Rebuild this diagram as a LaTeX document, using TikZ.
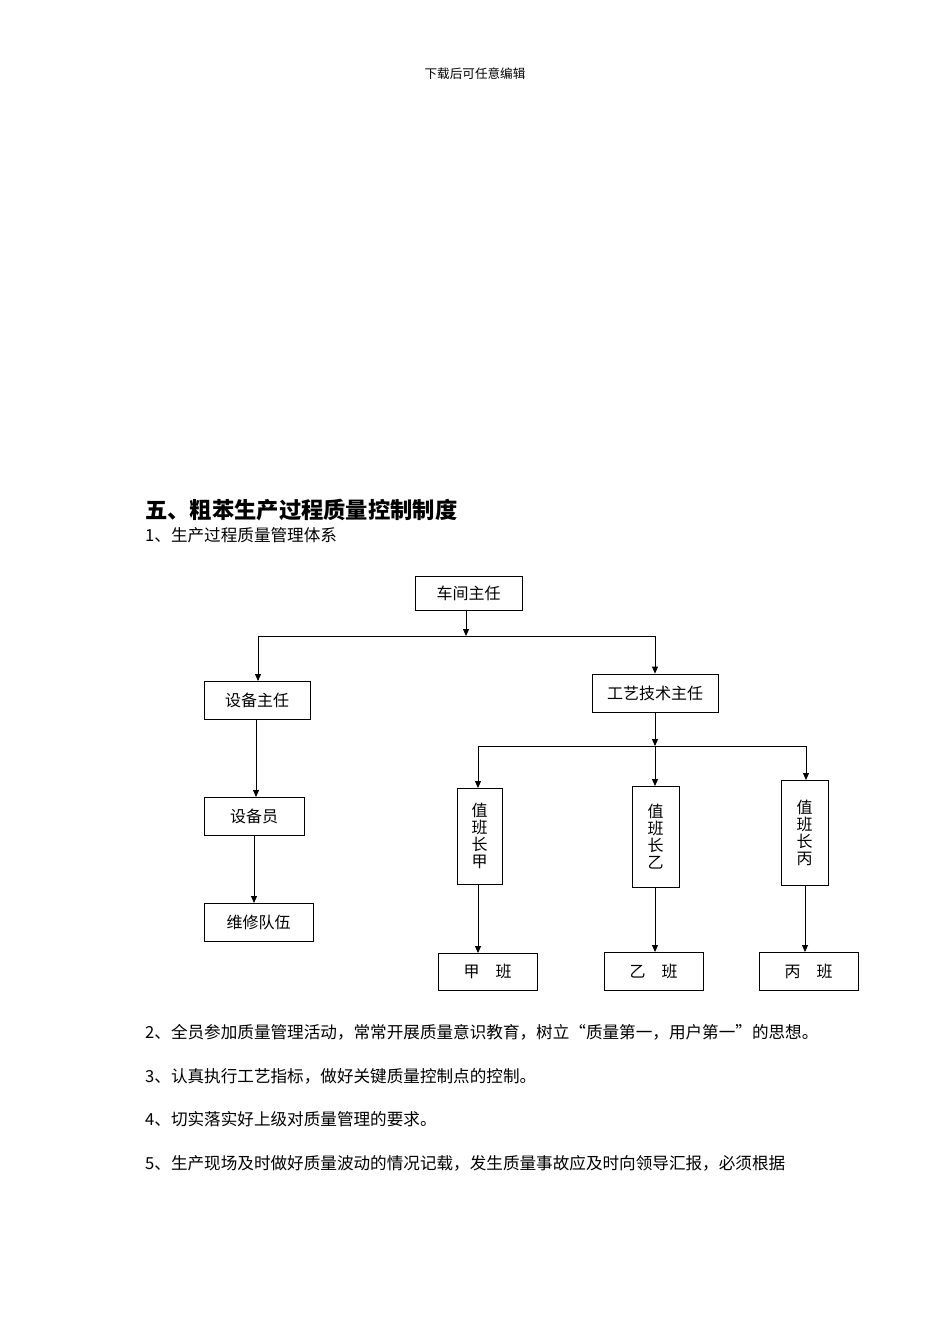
\documentclass[tikz,border=0pt]{standalone}
\usepackage{fontspec}
\newfontfamily\cjk{Noto Sans CJK SC}
\usetikzlibrary{arrows.meta}
\begin{document}
\begin{tikzpicture}[x=1pt,y=-1pt,
 bx/.style={draw,line width=0.8pt,inner sep=0pt,font=\cjk\fontsize{16}{16}\selectfont},
 vb/.style={bx,align=center,font=\cjk\fontsize{16}{17}\selectfont},
 ar/.style={-{Triangle[length=7pt,width=6pt]},line width=0.8pt},
 ln/.style={line width=0.8pt},
 tx/.style={anchor=west,inner sep=0pt,font=\cjk\fontsize{16.6}{17}\selectfont}]
\useasboundingbox (0,0) rectangle (950,1344);
\node[inner sep=0pt,font=\cjk\fontsize{12.6}{13}\selectfont] (hdr) at (475,74) {下载后可任意编辑};
\node[tx,font=\cjk\bfseries\fontsize{22.3}{23}\selectfont] (t0) at (145,510) {五、粗苯生产过程质量控制制度};
\node[tx] (t1) at (145,535) {1、生产过程质量管理体系};
\node[bx,minimum width=107pt,minimum height=34pt] (a) at (468.5,593) {车间主任};
\node[bx,minimum width=106pt,minimum height=38pt] (b) at (257,700) {设备主任};
\node[bx,minimum width=126pt,minimum height=38pt] (c) at (655,693) {工艺技术主任};
\node[bx,minimum width=100pt,minimum height=38pt] (d) at (254,816) {设备员};
\node[bx,minimum width=109pt,minimum height=38pt] (e) at (258.5,922) {维修队伍};
\node[vb,minimum width=45pt,minimum height=96pt] (f) at (479.5,836) {值\\班\\长\\甲};
\node[vb,minimum width=47pt,minimum height=101pt] (g) at (655.5,836.5) {值\\班\\长\\乙};
\node[vb,minimum width=47pt,minimum height=105pt] (h) at (804.5,832.5) {值\\班\\长\\丙};
\node[bx,minimum width=99pt,minimum height=37pt] (i) at (487.5,971.5) {甲\quad 班};
\node[bx,minimum width=99pt,minimum height=38pt] (j) at (653.5,971) {乙\quad 班};
\node[bx,minimum width=99pt,minimum height=38pt] (k) at (808.5,971) {丙\quad 班};
\coordinate (p1) at (466,636);
\coordinate (p2) at (655,746);
\draw[ar] (a.south -| p1) -- (p1);
\draw[ln] (258,636) -- (655,636);
\draw[ar] (258,636) -- (258,681);
\draw[ar] (655,636) -- (c.north);
\draw[ar] (c.south) -- (p2);
\draw[ln] (478,746) -- (806,746);
\draw[ar] (478,746) -- (478,788);
\draw[ar] (655,746) -- (655,786);
\draw[ar] (806,746) -- (806,780);
\draw[ar] (256,719) -- (256,797);
\draw[ar] (254,835) -- (254,903);
\draw[ar] (478,884) -- (478,953);
\draw[ar] (655,887) -- (655,952);
\draw[ar] (805,885) -- (805,952);
\node[tx] (t2) at (145,1032) {2、全员参加质量管理活动，常常开展质量意识教育，树立“质量第一，用户第一”的思想。};
\node[tx] (t3) at (145,1076) {3、认真执行工艺指标，做好关键质量控制点的控制。};
\node[tx] (t4) at (145,1119) {4、切实落实好上级对质量管理的要求。};
\node[tx] (t5) at (145,1163) {5、生产现场及时做好质量波动的情况记载，发生质量事故应及时向领导汇报，必须根据};
\end{tikzpicture}
\end{document}
